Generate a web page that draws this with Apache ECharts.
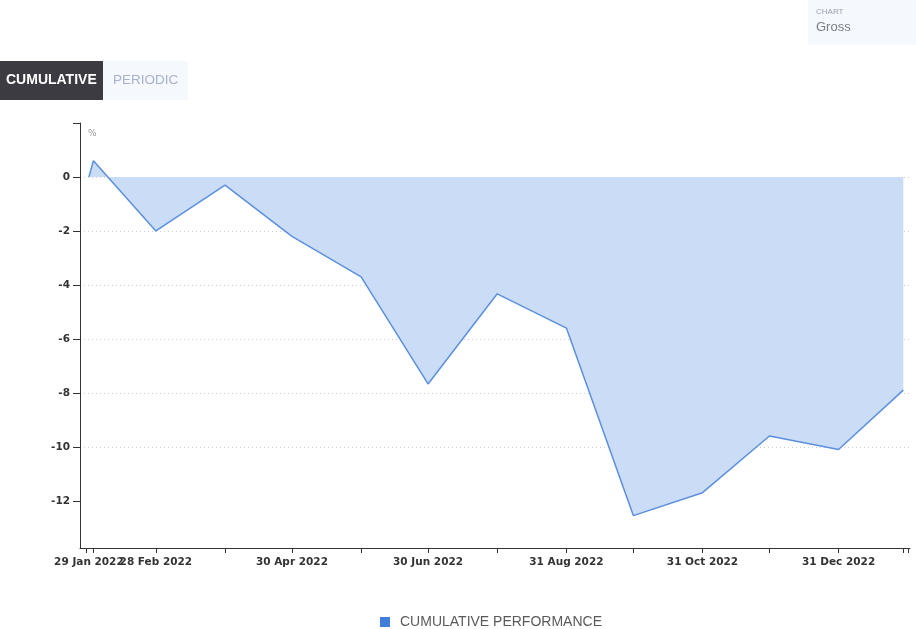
<!DOCTYPE html>
<html><head><meta charset="utf-8">
<script src="https://cdn.jsdelivr.net/npm/echarts@6/dist/echarts.min.js"></script>
<style>html,body{margin:0;padding:0;background:#fff}#c{width:916px;height:629px}</style>
</head><body><div id="c"></div>
<script>
const dates = ['2022-01-29','2022-01-31','2022-02-28','2022-03-31','2022-04-30','2022-05-31','2022-06-30','2022-07-31','2022-08-31','2022-09-30','2022-10-31','2022-11-30','2022-12-31','2023-01-29'];
const cumulative = [0, 0.6, -2.0, -0.3, -2.2, -3.7, -7.67, -4.33, -5.6, -12.55, -11.7, -9.6, -10.1, -7.9];
const xTickDates = ['2022-01-28','2022-01-31','2022-02-28','2022-03-31','2022-04-30','2022-05-31','2022-06-30','2022-07-31','2022-08-31','2022-09-30','2022-10-31','2022-11-30','2022-12-31','2023-01-29','2023-01-31'];
const xLabelDates = ['2022-02-28','2022-04-30','2022-06-30','2022-08-31','2022-10-31','2022-12-31'];
const xFirstLabelDate = ['2022-01-29'];
const yTickValues = [2, 0, -2, -4, -6, -8, -10, -12];
const yLabelValues = [0, -2, -4, -6, -8, -10, -12];
const months = ['Jan','Feb','Mar','Apr','May','Jun','Jul','Aug','Sep','Oct','Nov','Dec'];

const ts = s => new Date(s + 'T00:00:00Z').getTime();
const fmt = v => { const d = new Date(v); return d.getUTCDate() + ' ' + months[d.getUTCMonth()] + ' ' + d.getUTCFullYear(); };
const xMin = ts('2022-01-25'), xMax = ts('2023-02-01');
const labelStyle = {color:'#333', fontSize: 10.5, fontWeight:'bold', fontFamily:'DejaVu Sans', margin: 9, formatter: fmt, showMinLabel: true, showMaxLabel: true};
const chart = echarts.init(document.getElementById('c'), null, {renderer:'canvas'});
chart.setOption({
  animation: false,
  textStyle: {fontFamily: 'DejaVu Sans'},
  grid: {left: 80, right: 6, top: 123, bottom: 81, containLabel: false},
  graphic: [
    {type:'rect', left: 0, top: 61, shape:{width:103, height:39}, style:{fill:'#3d3b42'}},
    {type:'text', left: 6, top: 73, style:{text:'CUMULATIVE', fill:'#fff', font:'bold 14px "Liberation Sans"'}},
    {type:'rect', left: 103, top: 61, shape:{width:85, height:39}, style:{fill:'#f5f8fc'}},
    {type:'text', left: 113, top: 73, style:{text:'PERIODIC', fill:'#a8b0d0', font:'13.5px "Liberation Sans"'}},
    {type:'rect', left: 808, top: 0, shape:{width:108, height:45}, style:{fill:'#f5f8fc'}},
    {type:'text', left: 816, top: 8, style:{text:'CHART', fill:'#9aa0b0', font:'8px "Liberation Sans"'}},
    {type:'text', left: 816, top: 21, style:{text:'Gross', fill:'#7a7f88', font:'13px "Liberation Sans"'}},
    {type:'text', left: 88, top: 129, style:{text:'%', fill:'#999', font:'9px "DejaVu Sans"'}}
  ],
  legend: {
    top: 610, left: 375, itemWidth: 10, itemHeight: 10, icon: 'rect', itemGap: 10,
    textStyle: {color:'#5a5a5a', fontSize: 14, fontFamily: 'Liberation Sans', padding: [0,0,0,5]},
    data: [{name:'CUMULATIVE PERFORMANCE', itemStyle:{color:'#3f7fd9'}}]
  },
  xAxis: [{
    type: 'value', min: xMin, max: xMax,
    axisLine: {onZero:false, lineStyle:{color:'#333', width:1}},
    axisTick: {show:true, length:5, lineStyle:{color:'#333'}, customValues: xTickDates.map(ts)},
    axisLabel: Object.assign({customValues: xLabelDates.map(ts)}, labelStyle),
    splitLine: {show:false}
  }, {
    type: 'value', min: xMin, max: xMax, position: 'bottom',
    axisLine: {show:false}, axisTick: {show:false},
    axisLabel: Object.assign({customValues: xFirstLabelDate.map(ts)}, labelStyle),
    splitLine: {show:false}
  }],
  yAxis: {
    type: 'value',
    min: -13.75, max: 2,
    axisLine: {show:true, lineStyle:{color:'#333', width:1}},
    axisTick: {show:true, length:7, lineStyle:{color:'#333'}, customValues: yTickValues},
    axisLabel: {customValues: yLabelValues, color:'#333', fontSize: 10.5, fontWeight:'bold', fontFamily:'DejaVu Sans', margin: 10},
    splitLine: {show:true, showMaxLine:false, showMinLine:false, lineStyle:{color:'#c8ccd4', type:[1,3], width:1}}
  },
  series: [{
    name: 'CUMULATIVE PERFORMANCE',
    type: 'line', xAxisIndex: 0,
    data: dates.map((d,i) => [ts(d), cumulative[i]]),
    symbol: 'none',
    lineStyle: {color:'#5a90de', width:1.5},
    itemStyle: {color:'#3f7fd9'},
    areaStyle: {color:'#cbdcf7', opacity: 1}
  }]
});
</script></body></html>
